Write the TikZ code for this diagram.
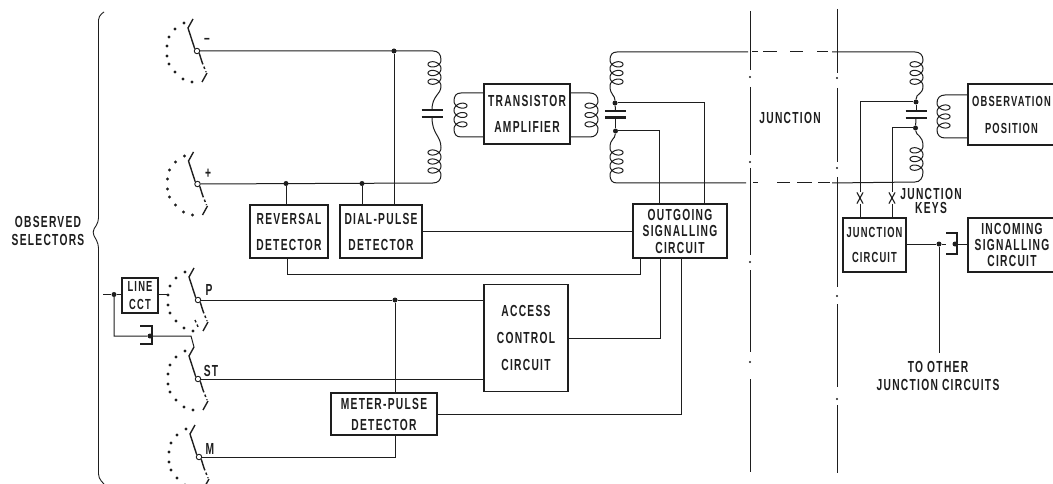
\documentclass[tikz,border=0pt]{standalone}
\usepackage{fontspec}
\usetikzlibrary{shapes.misc}
\newfontfamily\lab[LetterSpace=8,FakeStretch=0.64]{Liberation Sans Bold}
\definecolor{ink}{HTML}{1E1E1E}
\newcommand{\selsw}[3]{%
  \node[pivot] (#1) at (#2,#3) {};
  \begin{scope}[shift={(#2,#3)}]
    \foreach \dx/\dy in {-13/-28,-22/-22,-28/-14,-30/-5,-30/5,-28/13,-22/21,-14/28,-5/31}
      \fill[ink] (\dx,\dy) circle (1.6pt);
    \coordinate (#1top) at (-4,-32);
    \draw[arm] (#1top) -- (-9,-23) -- (#1.north west);
    \draw[arm] (#1.south east) -- (5,11);
    \draw[arm,dash pattern=on 2.5pt off 2.5pt] (5,11) -- (9,21);
    \draw[arm] (10,22) -- (5,31);
  \end{scope}}
\newcommand{\coilv}[5]{% name, centre x, y top, y bottom, side
  \draw[wire] plot[smooth,domain=0:1080,samples=73]
    ({#2+#5*6.5*cos(\x)},{#3+\x/1080*(#4-#3)+4.6*sin(\x)});
  \coordinate (#1t) at ({#2+#5*6.5},#3);
  \coordinate (#1b) at ({#2+#5*6.5},#4);}
\newcommand{\capv}[4]{% name, x, y1, y2
  \coordinate (#1a) at (#2,#3);
  \coordinate (#1b) at (#2,#4);
  \draw[plate] ([xshift=-10.5pt]#1a) -- ([xshift=10.5pt]#1a);
  \draw[plate] ([xshift=-10.5pt]#1b) -- ([xshift=10.5pt]#1b);}
\begin{document}
\begin{tikzpicture}[x=1pt,y=-1pt,
  wire/.style={draw=ink,line width=1pt},
  arm/.style={draw=ink,line width=1.4pt},
  thin wire/.style={draw=ink,line width=0.9pt},
  plate/.style={draw=ink,line width=2.6pt},
  pivot/.style={circle,draw=ink,fill=white,line width=0.9pt,minimum size=5.5pt,inner sep=0pt},
  dot/.style={circle,fill=ink,minimum size=5pt,inner sep=0pt},
  lines/.style={font=\lab\fontsize{16}{#1}\selectfont},
  snug/.style={font=\lab\fontsize{14.6}{#1}\selectfont},
  blk/.style={draw=ink,line width=1.5pt,fill=white,align=center,inner sep=0pt,text=ink,lines=#1},
  lbl/.style={text=ink,align=center,inner sep=0pt,lines=#1},
  keyx/.style={cross out,draw=ink,line width=1.1pt,minimum width=5pt,minimum height=10pt,inner sep=0pt},
]
\useasboundingbox (0,0) rectangle (1053,484);
\clip (0,0) rectangle (1053,484);
\fill[white] (0,0) rectangle (1053,484);

% brace
\draw[wire,line width=0.9pt,rounded corners=4pt] (104,12) -- (98.5,16) -- (98.5,222) -- (92,232) -- (98.5,244) -- (98.5,478) -- (104,484);
\node[lbl=18pt] (obs) at (48,231) {OBSERVED\\SELECTORS};

% rails
\foreach \ya/\yb in {11/70,87/155,168/255,270/352,379/472} \draw[thin wire] (750,\ya) -- (750,\yb);
\foreach \ya/\yb in {9/73,88/162,177/287,304/387,405/473} \draw[thin wire] (837,\ya) -- (837,\yb);
\foreach \yy in {77,162,262,362} \fill[ink] (750,\yy) circle (1.1pt);
\foreach \yy in {78,168,296,399} \fill[ink] (837,\yy) circle (1.1pt);

% selectors
\selsw{sm}{197}{51}
\selsw{sp}{197.5}{184}
\selsw{sP}{198}{300}
\selsw{sS}{198}{379}
\selsw{sM}{199}{457}

% boxes
\node[blk=26pt,minimum width=78pt,minimum height=53pt] (rev) at (289,231.5) {REVERSAL\\DETECTOR};
\node[blk=26pt,minimum width=82pt,minimum height=53pt] (dial) at (381,231.5) {DIAL-PULSE\\DETECTOR};
\node[blk=26pt,minimum width=86pt,minimum height=60pt] (amp) at (527,114) {TRANSISTOR\\AMPLIFIER};
\node[blk=16.5pt,minimum width=94pt,minimum height=54pt] (out) at (680,231) {OUTGOING\\SIGNALLING\\CIRCUIT};
\node[blk=27pt,minimum width=84pt,minimum height=107pt] (acc) at (526,338) {ACCESS\\CONTROL\\CIRCUIT};
\node[blk=21pt,minimum width=106pt,minimum height=42pt] (met) at (384,414) {METER-PULSE\\DETECTOR};
\node[blk=18pt,minimum width=36pt,minimum height=35pt,line width=1.3pt,snug=17.5pt] (cct) at (140,295.5) {LINE\\CCT};
\node[blk=27pt,minimum width=87pt,minimum height=61pt,snug=27pt] (obp) at (1011.5,114.5) {OBSERVATION\\POSITION};
\node[blk=25pt,minimum width=63pt,minimum height=54pt,snug=25pt] (jc) at (874.5,245) {JUNCTION\\CIRCUIT};
\node[blk=16pt,minimum width=88pt,minimum height=54pt] (inc) at (1012,245) {INCOMING\\SIGNALLING\\CIRCUIT};

% labels
\node[lbl=14pt] (tm) at (207,41) {–};
\node[lbl=14pt] (tp) at (208,174) {+};
\node[lbl=14pt] (tP) at (209,290) {P};
\node[lbl=14pt] (tS) at (211,371) {ST};
\node[lbl=14pt] (tM) at (210,449) {M};
\node[lbl=14pt] (jn) at (790,118) {JUNCTION};
\node[lbl=14pt] (jk) at (931,200.5) {JUNCTION\\KEYS};
\node[lbl=18pt] (toj) at (938,376) {TO OTHER\\JUNCTION CIRCUITS};

% coils and capacitors
\coilv{ca1}{434.5}{60}{86}{1}
\coilv{ca2}{434.5}{148}{175}{1}
\capv{capA}{432}{110}{117}
\coilv{cb1}{616.5}{60}{86}{-1}
\coilv{cb2}{616.5}{148}{175}{-1}
\capv{capB}{615.5}{111}{117.5}
\coilv{cc1}{916.5}{60}{86}{1}
\coilv{cc2}{916.5}{146}{172}{1}
\capv{capC}{916}{111}{118}
\coilv{tl}{460.5}{101}{129}{-1}
\coilv{tr}{591.5}{101}{129}{1}
\coilv{to}{943.5}{103}{130}{-1}

% junction dots
\node[dot] (d1) at (394,51) {};
\node[dot] (d2) at (286,183.5) {};
\node[dot] (d3) at (362,183.5) {};
\node[dot] (d4) at (395,300) {};
\node[dot] (b1) at (615,103) {};
\node[dot] (b2) at (615.5,131) {};
\node[dot] (c1) at (916,102) {};
\node[dot] (c2) at (915.5,128) {};
\node[dot] (ll) at (114,294.5) {};
\node[dot] (lk) at (150,336) {};
\node[dot] (jd) at (939,244) {};
\node[dot] (jk2) at (955,244) {};
\node[keyx] (k1) at (860,198) {};
\node[keyx] (k2) at (892,198) {};

% free ends and bends
\coordinate (aTop) at (433,51);
\coordinate (aBot) at (433,183);
\coordinate (bTop) at (617,52);
\coordinate (bBot) at (617,183);
\coordinate (cTop) at (915,52);
\coordinate (cBot) at (915,182);
\coordinate (tsol) at (748,52);
\coordinate (bsol) at (746,183);
\coordinate (tdas) at (832,52);
\coordinate (bdas) at (832,183);
\coordinate (revT) at (286,204.5);
\coordinate (dialT) at (362,204.5);
\coordinate (dialT2) at (394,204.5);
\coordinate (revB) at (287,258);
\coordinate (revC) at (287,274);
\coordinate (outB1) at (640,258);
\coordinate (outB2) at (660,258);
\coordinate (outB3) at (681,258);
\coordinate (outL) at (633,231);
\coordinate (outT1) at (659,204);
\coordinate (outT2) at (704,204);
\coordinate (ltail) at (103,294.5);

% main wires
\draw[wire] (sm) -- (aTop) .. controls (438,51) and (441,54) .. (ca1t);
\draw[wire] (ca1b) .. controls (441,95) and (432,95) .. (capAa);
\draw[wire] (capAb) .. controls (432,135) and (441,135) .. (ca2t);
\draw[wire] (ca2b) .. controls (441,180) and (438,183) .. (aBot);
\draw[wire] (sp) -- (aBot);
\draw[wire] (d1) -- (dialT2);
\draw[wire] (d2) -- (revT);
\draw[wire] (d3) -- (dialT);
\draw[wire] (revB) -- (revC) -- (revC -| outB1) -- (outB1);
\draw[wire,line width=0.9pt] (dial.east |- outL) -- (outL);

% outgoing bridge
\draw[wire] (tsol) -- (bTop) .. controls (612,52) and (610,55) .. (cb1t);
\draw[wire] (cb1b) .. controls (610,95) and (615,95) .. (b1);
\draw[wire] (b1) -- (capBa);
\draw[wire] (capBb) -- (b2);
\draw[wire] (b2) .. controls (615,140) and (610,138) .. (cb2t);
\draw[wire] (cb2b) .. controls (610,180) and (612,183) .. (bBot) -- (bsol);
\draw[wire] (b1) -| (outT2);
\draw[wire] (b2) -| (outT1);

% dashed junction wires
\draw[wire,dash pattern=on 0pt off 4pt on 6pt off 5pt on 14pt off 13pt on 13pt off 14pt on 11pt off 4pt] (tsol) -- (tdas);
\draw[wire,dash pattern=on 0pt off 7pt on 5pt off 19pt on 13pt off 7pt on 15pt off 6pt on 12pt off 2pt] (bsol) -- (bdas);
\draw[wire] (tdas) -- (cTop) .. controls (920,52) and (923,55) .. (cc1t);
\draw[wire] (bdas) -- (cBot) .. controls (920,182) and (923,178) .. (cc2b);
\draw[wire] (cc1b) .. controls (923,95) and (916,93) .. (c1);
\draw[wire] (c1) -- (capCa);
\draw[wire] (capCb) -- (c2);
\draw[wire] (c2) .. controls (916,136) and (923,135) .. (cc2t);

% transformers
\draw[wire] (amp.west |- 0,93) -- (461,93) .. controls (456,93) and (454,96) .. (tlt);
\draw[wire] (tlb) .. controls (454,134) and (456,137) .. (461,137) -- (amp.west |- 0,137);
\draw[wire] (amp.east |- 0,93) -- (590,93) .. controls (595,93) and (598,96) .. (trt);
\draw[wire] (trb) .. controls (598,134) and (595,137) .. (590,137) -- (amp.east |- 0,137);
\draw[wire] (obp.west |- 0,95) -- (945,95) .. controls (940,95) and (937,98) .. (tot);
\draw[wire] (tob) .. controls (937,135) and (940,138) .. (945,138) -- (obp.west |- 0,138);

% junction keys
\draw[wire] (c1) -| (k1.north);
\draw[wire] (k1.south) -- (k1.south |- jc.north);
\draw[wire] (c2) -| (k2.north);
\draw[wire] (k2.south) -- (k2.south |- jc.north);

% junction circuit onward
\draw[wire] (jc.east |- jd) -- (jd) -- (946,244);
\draw[wire] (jk2) -- (inc.west |- jk2);
\draw[wire,line width=1.3pt] (946,233) -- (957,233) -- (957,254) -- (946,254);
\draw[wire] (jd) -- (939,353);

% lower selectors
\draw[wire] (sP) -- (d4) -- (acc.west |- d4);
\draw[wire] (sS) -- (acc.west |- sS);
\draw[wire] (d4) -- (d4 |- met.north);
\draw[wire] (sM) -| (met.south -| d4);
\draw[wire] (acc.east) -| (outB2);
\draw[wire] (met.east) -| (outB3);

% line circuit and jack
\draw[wire] (ltail) -- (ll) -- (cct.west |- ll);
\draw[wire] (cct.east |- ll) -- (167,294.5);
\draw[wire] (ll) |- (lk) -- (191,336) -- (sStop);
\draw[wire,line width=1.3pt] (140,326) -- (152,326) -- (152,344) -- (140,344);
\draw[arm,dash pattern=on 2.5pt off 2.5pt] (195,320) -- (199,329);
\end{tikzpicture}
\end{document}
